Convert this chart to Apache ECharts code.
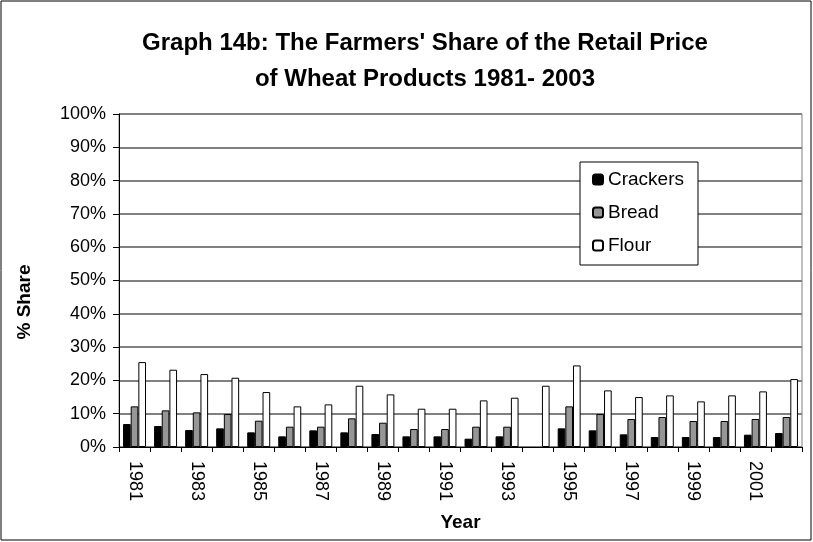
<!DOCTYPE html>
<html>
<head>
<meta charset="utf-8">
<script src="https://cdn.jsdelivr.net/npm/echarts@6/dist/echarts.min.js"></script>
<style>
  html, body { margin: 0; padding: 0; background: #fff; }
  #chart { width: 813px; height: 542px; }
</style>
</head>
<body>
<div id="chart"></div>
<script>
// years on the x axis
const years = ['1981', '1982', '1983', '1984', '1985', '1986', '1987', '1988', '1989', '1990', '1991',
  '1992', '1993', '1994', '1995', '1996', '1997', '1998', '1999', '2000', '2001', '2002'];
// farmers' share, percent (1994 only has flour)
const crackers = [6.9, 6.3, 5.1, 5.6, 4.4, 3.2, 5.0, 4.4, 3.9, 3.2, 3.2, 2.5, 3.2, null, 5.6, 5.0, 3.8, 3.0, 3.0, 3.0, 3.7, 4.2];
const bread = [12.2, 11.0, 10.4, 9.9, 7.9, 6.1, 6.1, 8.6, 7.3, 5.4, 5.4, 6.1, 6.1, null, 12.2, 9.9, 8.4, 9.0, 7.8, 7.8, 8.4, 9.0];
const flour = [25.5, 23.2, 21.9, 20.8, 16.5, 12.2, 12.8, 18.4, 15.8, 11.5, 11.5, 14.0, 14.8, 18.4, 24.5, 17.0, 15.0, 15.5, 13.7, 15.5, 16.7, 20.4];

const font = 'Liberation Sans, Arial, sans-serif';

const mychart = echarts.init(document.getElementById('chart'));

function barSeries(name, data, color) {
  return {
    name: name,
    type: 'bar',
    data: data,
    barGap: '0%',
    barCategoryGap: '26%',
    itemStyle: { color: color, borderColor: '#000', borderWidth: 1 },
  };
}

mychart.setOption({
  animation: false,
  backgroundColor: '#fff',
  title: {
    text: "Graph 14b: The Farmers' Share of the Retail Price\nof Wheat Products 1981- 2003",
    left: 420,
    textAlign: 'center',
    top: 20,
    textStyle: { fontFamily: font, fontSize: 24, fontWeight: 'bold', color: '#000', lineHeight: 36 },
  },
  legend: {
    orient: 'vertical',
    left: 580,
    top: 162,
    padding: [8, 14, 10, 12],
    itemWidth: 10,
    itemHeight: 10,
    itemGap: 14,
    backgroundColor: '#fff',
    borderColor: '#000',
    borderWidth: 1,
    borderRadius: 0,
    textStyle: { fontFamily: font, fontSize: 19, color: '#000' },
    data: ['Crackers', 'Bread', 'Flour'],
  },
  grid: {
    left: 119,
    right: 11,
    top: 114,
    bottom: 95,
    show: true,
    borderColor: '#808080',
    borderWidth: 1,
  },
  xAxis: {
    type: 'category',
    data: years,
    name: 'Year',
    nameLocation: 'middle',
    nameGap: 66,
    nameTextStyle: { fontFamily: font, fontSize: 19, fontWeight: 'bold', color: '#000' },
    axisLine: { lineStyle: { color: '#000', width: 1 } },
    axisTick: { show: true, interval: 0, length: 5, lineStyle: { color: '#000' } },
    axisLabel: { interval: 1, rotate: -90, margin: 14, fontFamily: font, fontSize: 18, color: '#000' },
  },
  yAxis: {
    type: 'value',
    min: 0,
    max: 100,
    interval: 10,
    axisLine: { show: true, lineStyle: { color: '#000', width: 1 } },
    axisTick: { show: true, length: 6, lineStyle: { color: '#000' } },
    axisLabel: { formatter: '{value}%', margin: 13, fontFamily: font, fontSize: 18, color: '#000' },
    splitLine: { lineStyle: { color: '#808080', width: 2 } },
  },
  series: [
    barSeries('Crackers', crackers, '#000000'),
    barSeries('Bread', bread, '#969696'),
    barSeries('Flour', flour, '#ffffff'),
  ],
  graphic: [
    {
      type: 'rect',
      shape: { x: 1, y: 1, width: 810, height: 539 },
      style: { fill: 'none', stroke: '#000', lineWidth: 1 },
      silent: true,
    },
    {
      type: 'text',
      x: 25,
      y: 302,
      rotation: Math.PI / 2,
      style: {
        text: '% Share',
        fontFamily: font,
        fontSize: 19,
        fontWeight: 'bold',
        fill: '#000',
        align: 'center',
        verticalAlign: 'middle',
      },
    },
  ],
});
</script>
</body>
</html>
